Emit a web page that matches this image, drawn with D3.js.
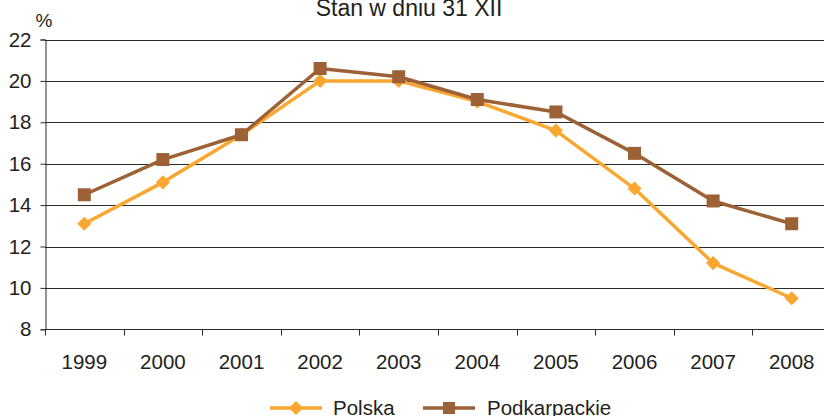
<!DOCTYPE html>
<html>
<head>
<meta charset="utf-8">
<script src="https://cdn.jsdelivr.net/npm/d3@7"></script>
<style>
  html, body { margin: 0; padding: 0; background: #fff; overflow: hidden; }
  text { font-family: "Liberation Sans", Arial, sans-serif; fill: #231f20; }
</style>
</head>
<body>
<svg id="chart" width="824" height="416"></svg>
<script>
// Data
const years = ["1999", "2000", "2001", "2002", "2003", "2004", "2005", "2006", "2007", "2008"];
const polska = [13.1, 15.1, 17.4, 20.0, 20.0, 19.0, 17.6, 14.8, 11.2, 9.5];
const podkarpackie = [14.5, 16.2, 17.4, 20.6, 20.2, 19.1, 18.5, 16.5, 14.2, 13.1];
const yTicks = [8, 10, 12, 14, 16, 18, 20, 22];

const orange = "#f9a731";
const brown = "#9c6134";

const svg = d3.select("#chart");

// plot area (the original chart is cropped on the right)
const plotLeft = 45, plotRight = 831, plotTop = 39.5, plotBottom = 329.3;

const x = d3.scaleBand().domain(years).range([plotLeft, plotRight]).padding(0);
const y = d3.scaleLinear().domain([8, 22]).range([plotBottom, plotTop]);

// Title, cut at the top edge
svg.append("text")
  .attr("x", 409)
  .attr("y", 16)
  .attr("text-anchor", "middle")
  .style("font-size", "23px")
  .text("Stan w dniu 31 XII");

// Horizontal gridlines
svg.append("g")
  .selectAll("line")
  .data(yTicks)
  .enter()
  .append("line")
  .attr("x1", plotLeft)
  .attr("x2", 824)
  .attr("y1", d => Math.round(y(d)) + 0.5)
  .attr("y2", d => Math.round(y(d)) + 0.5)
  .attr("stroke", "#2b2b2b")
  .attr("stroke-width", 1);

// Y axis
const yAxis = svg.append("g")
  .attr("transform", `translate(${plotLeft + 0.5},0)`)
  .call(d3.axisLeft(y).tickValues(yTicks).tickSize(5).tickPadding(9));
yAxis.select(".domain").attr("stroke", "#2b2b2b");
yAxis.selectAll(".tick line").attr("stroke", "#2b2b2b");
yAxis.selectAll(".tick text")
  .style("font-size", "20.5px")
  .attr("fill", "#231f20");

svg.append("text")
  .attr("x", 44)
  .attr("y", 27)
  .attr("text-anchor", "middle")
  .style("font-size", "19px")
  .text("%");

// X axis: ticks between categories
const xAxis = svg.append("g")
  .attr("transform", `translate(0,${Math.round(plotBottom) + 0.5})`);
xAxis.selectAll("line")
  .data(years.concat(["end"]))
  .enter()
  .append("line")
  .attr("x1", (d, i) => Math.round(plotLeft + i * x.bandwidth()) + 0.5)
  .attr("x2", (d, i) => Math.round(plotLeft + i * x.bandwidth()) + 0.5)
  .attr("y1", 0)
  .attr("y2", 6)
  .attr("stroke", "#2b2b2b");
xAxis.selectAll("text")
  .data(years)
  .enter()
  .append("text")
  .attr("x", d => x(d) + x.bandwidth() / 2)
  .attr("y", 39)
  .attr("text-anchor", "middle")
  .style("font-size", "20.5px")
  .text(d => d);

const line = d3.line()
  .x((d, i) => x(years[i]) + x.bandwidth() / 2)
  .y(d => y(d));

// Polska series
svg.append("path")
  .datum(polska)
  .attr("d", line)
  .attr("fill", "none")
  .attr("stroke", orange)
  .attr("stroke-width", 3.5)
  .attr("stroke-linejoin", "round");

svg.append("g")
  .selectAll("path")
  .data(polska)
  .enter()
  .append("path")
  .attr("d", d3.symbol().type(d3.symbolSquare).size(100))
  .attr("transform", (d, i) => `translate(${x(years[i]) + x.bandwidth() / 2},${y(d)}) rotate(45)`)
  .attr("fill", orange);

// Podkarpackie series
svg.append("path")
  .datum(podkarpackie)
  .attr("d", line)
  .attr("fill", "none")
  .attr("stroke", brown)
  .attr("stroke-width", 3.5)
  .attr("stroke-linejoin", "round");

svg.append("g")
  .selectAll("rect")
  .data(podkarpackie)
  .enter()
  .append("rect")
  .attr("x", (d, i) => x(years[i]) + x.bandwidth() / 2 - 6.5)
  .attr("y", d => y(d) - 6.5)
  .attr("width", 13)
  .attr("height", 13)
  .attr("fill", brown);

// Legend
const legendY = 408;
const legend = svg.append("g");

legend.append("line")
  .attr("x1", 270).attr("x2", 322)
  .attr("y1", legendY).attr("y2", legendY)
  .attr("stroke", orange).attr("stroke-width", 3.5);
legend.append("path")
  .attr("d", d3.symbol().type(d3.symbolSquare).size(100))
  .attr("transform", `translate(296,${legendY}) rotate(45)`)
  .attr("fill", orange);
legend.append("text")
  .attr("x", 333).attr("y", legendY + 7)
  .style("font-size", "20.5px")
  .text("Polska");

legend.append("line")
  .attr("x1", 423).attr("x2", 475)
  .attr("y1", legendY).attr("y2", legendY)
  .attr("stroke", brown).attr("stroke-width", 3.5);
legend.append("rect")
  .attr("x", 443).attr("y", legendY - 6)
  .attr("width", 12).attr("height", 12)
  .attr("fill", brown);
legend.append("text")
  .attr("x", 487).attr("y", legendY + 7)
  .style("font-size", "20.5px")
  .text("Podkarpackie");
</script>
</body>
</html>
